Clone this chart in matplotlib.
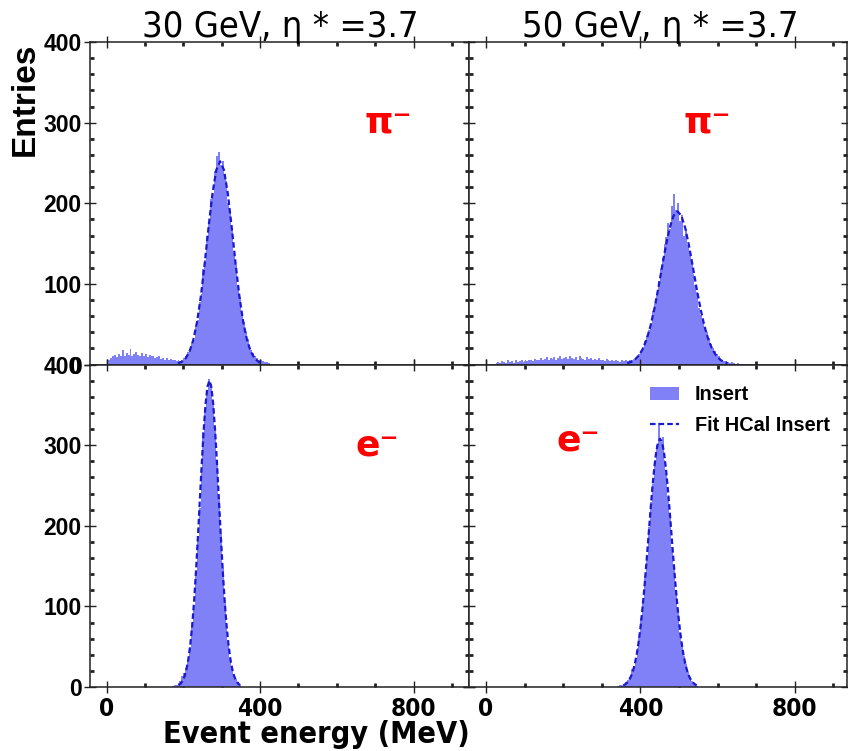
import numpy as np
import matplotlib
matplotlib.use('Agg')
import matplotlib.pyplot as plt
from matplotlib import font_manager
from matplotlib.ticker import MultipleLocator, FixedLocator, NullFormatter
from matplotlib.patches import Patch
from matplotlib.lines import Line2D

names = {f.name for f in font_manager.fontManager.ttflist}
SANS = 'Liberation Sans' if 'Liberation Sans' in names else 'DejaVu Sans'
COND = 'DejaVu Sans'
plt.rcParams['lines.scale_dashes'] = False

# ---------------- data ----------------
titles = ["30 GeV, η * =3.7", "50 GeV, η * =3.7"]
particle_labels = ["π⁻", "e⁻"]
xlabel = "Event energy (MeV)"
ylabel = "Entries"
legend_labels = ["Insert", "Fit HCal Insert"]
x_major_ticks = [0, 400, 800]
y_major_ticks = [0, 100, 200, 300, 400]
bin_width = 5

pi30_start = 0
pi30_counts = [3, 6, 8, 10, 12, 9, 13, 11, 18, 10,
               14, 12, 19, 11, 13, 15, 12, 10, 14, 11,
               13, 9, 12, 10, 11, 8, 9, 10, 7, 8,
               6, 8, 5, 7, 5, 6, 4, 5, 4, 6,
               8, 10, 15, 19, 27, 31, 48, 55, 78, 88,
               118, 130, 160, 175, 205, 212, 240, 258, 264, 248,
               252, 236, 228, 200, 190, 168, 138, 124, 97, 84,
               62, 53, 40, 32, 24, 18, 14, 10, 8, 6,
               5, 4, 3, 3, 2, 1]

pi50_start = 0
pi50_counts = [0, 0, 0, 0, 1, 2, 3, 2, 4, 3,
               2, 5, 3, 4, 2, 5, 3, 4, 6, 3,
               5, 4, 6, 5, 4, 7, 5, 6, 8, 6,
               7, 9, 6, 8, 7, 9, 6, 8, 10, 7,
               8, 9, 7, 11, 8, 7, 9, 6, 10, 8,
               7, 6, 9, 7, 8, 5, 7, 6, 8, 5,
               6, 4, 7, 5, 4, 6, 4, 5, 4, 3,
               5, 4,
               5, 4, 6, 5, 7, 8, 10, 13, 17, 22,
               29, 35, 43, 52, 66, 75, 86, 104, 118, 132,
               150, 158, 175, 168, 196, 212, 192, 200, 178, 186,
               160, 168, 148, 140, 126, 112, 98, 90, 70, 62,
               56, 46, 40, 33, 26, 21, 17, 13, 10, 8,
               6, 4, 4, 3, 2, 3, 2, 1, 2, 1,
               1, 1, 0, 1]

e30_start = 170
e30_counts = [1, 3, 2, 5, 8, 14, 17, 24, 34, 50,
              74, 100, 140, 183, 222, 270, 316, 345, 368, 382,
              376, 350, 318, 282, 232, 190, 148, 106, 78, 54,
              36, 24, 15, 10, 6, 2]

e50_start = 340
e50_counts = [1, 2, 3, 4, 6, 9, 13, 22, 26, 34,
              48, 62, 86, 104, 138, 162, 198, 230, 252, 282,
              300, 328, 304, 310, 282, 266, 236, 210, 174, 150,
              116, 94, 68, 52, 38, 28, 19, 13, 8, 4,
              2, 1]

pi30_fit_x = [186, 196, 206, 216, 226, 236, 246, 256, 266, 276, 286, 296,
              306, 316, 326, 336, 346, 356, 366, 376, 386, 396, 406]
pi30_fit_y = [1.3, 3.3, 7.6, 15.8, 30.3, 53.1, 85.4, 126.2, 170.8, 212.0, 241.3, 252,
              241.3, 212.0, 170.8, 126.2, 85.4, 53.1, 30.3, 15.8, 7.6, 3.3, 1.3]

pi50_fit_x = [366, 376, 386, 396, 406, 416, 426, 436, 446, 456, 466, 476, 486, 496,
              506, 516, 526, 536, 546, 556, 566, 576, 586, 596, 606, 616, 626]
pi50_fit_y = [1.6, 3.2, 6.2, 11.2, 19.1, 31.0, 47.4, 68.5, 93.5, 120.7, 147.2, 169.6, 184.7, 190,
              184.7, 169.6, 147.2, 120.7, 93.5, 68.5, 47.4, 31.0, 19.1, 11.2, 6.2, 3.2, 1.6]

e30_fit_x = [188, 193, 198, 203, 208, 213, 218, 223, 228, 233, 238, 243, 248, 253, 258, 263, 268,
             273, 278, 283, 288, 293, 298, 303, 308, 313, 318, 323, 328, 333, 338, 343, 348]
e30_fit_y = [2.3, 4.2, 7.5, 12.9, 21.3, 33.8, 51.4, 75.2, 105.6, 142.6, 185.0, 230.5, 275.9, 317.4, 350.8, 372.5, 380,
             372.5, 350.8, 317.4, 275.9, 230.5, 185.0, 142.6, 105.6, 75.2, 51.4, 33.8, 21.3, 12.9, 7.5, 4.2, 2.3]

e50_fit_x = [356, 361, 366, 371, 376, 381, 386, 391, 396, 401, 406, 411, 416, 421, 426, 431, 436, 441, 446, 451,
             456, 461, 466, 471, 476, 481, 486, 491, 496, 501, 506, 511, 516, 521, 526, 531, 536, 541, 546]
e50_fit_y = [2.0, 3.4, 5.6, 8.8, 13.5, 20.2, 29.4, 41.7, 57.4, 76.8, 100.0, 126.6, 155.9, 186.8, 217.6, 246.6, 271.8, 291.4, 303.7, 308,
             303.7, 291.4, 271.8, 246.6, 217.6, 186.8, 155.9, 126.6, 100.0, 76.8, 57.4, 41.7, 29.4, 20.2, 13.5, 8.8, 5.6, 3.4, 2.0]

panels = [
    [(pi30_start, pi30_counts, pi30_fit_x, pi30_fit_y), (pi50_start, pi50_counts, pi50_fit_x, pi50_fit_y)],
    [(e30_start, e30_counts, e30_fit_x, e30_fit_y), (e50_start, e50_counts, e50_fit_x, e50_fit_y)],
]
label_pos = [[(735, 300), (572, 300)], [(705, 300), (240, 306)]]

# ---------------- style ----------------
HIST_COLOR = '#8080f7'
FIT_COLOR = '#1a1acc'
AX_COLOR = '#222222'

fig = plt.figure(figsize=(8.48, 7.51), dpi=100)
gs = fig.add_gridspec(2, 2, left=90/848, right=847/848, top=1-42/751, bottom=1-687/751,
                      wspace=0, hspace=0)
xlims = [(-43, 943), (-45, 935)]

for r in range(2):
    for c in range(2):
        ax = fig.add_subplot(gs[r, c])
        start, counts, fx, fy = panels[r][c]
        edges = start + bin_width * np.arange(len(counts) + 1)
        ax.stairs(counts, edges, fill=True, color=HIST_COLOR, lw=0, zorder=2)
        ax.plot(fx, fy, color=FIT_COLOR, lw=1.6, ls=(0, (4.0, 2.2)), zorder=3)
        ax.set_xlim(*xlims[c])
        ax.set_ylim(0, 400)
        ax.xaxis.set_major_locator(FixedLocator(x_major_ticks))
        ax.xaxis.set_minor_locator(MultipleLocator(100))
        ax.yaxis.set_major_locator(FixedLocator(y_major_ticks))
        ax.yaxis.set_minor_locator(MultipleLocator(20))
        ax.tick_params(which='major', direction='inout', length=8, width=1.0, color=AX_COLOR,
                       top=True, right=True, bottom=True, left=True)
        ax.tick_params(which='minor', direction='in', length=3, width=2.0, color=AX_COLOR,
                       top=True, right=True, bottom=True, left=True)
        for sp in ax.spines.values():
            sp.set_color(AX_COLOR)
            sp.set_linewidth(1.1)
        if c == 0:
            for lab in ax.get_yticklabels():
                lab.set_fontfamily(SANS)
                lab.set_fontweight('bold')
                lab.set_fontsize(16.5)
            ax.tick_params(axis='y', pad=2)
        else:
            ax.yaxis.set_major_formatter(NullFormatter())
        if r == 1:
            for lab in ax.get_xticklabels():
                lab.set_fontfamily(COND)
                lab.set_fontstretch('condensed')
                lab.set_fontweight('bold')
                lab.set_fontsize(17.5)
            ax.tick_params(axis='x', pad=3)
        else:
            ax.xaxis.set_major_formatter(NullFormatter())
        lx, ly = label_pos[r][c]
        ax.text(lx, ly, particle_labels[r], color='red', fontsize=26, fontweight='bold',
                family='DejaVu Sans', ha='center', va='center', zorder=5)
        if r == 1 and c == 1:
            handles = [Patch(facecolor=HIST_COLOR, edgecolor='none'),
                       Line2D([], [], color=FIT_COLOR, lw=1.6, ls=(0, (4.0, 2.2)))]
            ax.legend(handles, legend_labels, loc='upper left', bbox_to_anchor=(0.48, 0.935),
                      frameon=False, borderaxespad=0, borderpad=0, handlelength=1.45,
                      handleheight=0.7, handletextpad=0.8, labelspacing=0.6,
                      prop={'family': SANS, 'weight': 'bold', 'size': 14.3})

for c in range(2):
    x0 = (90 + c * 380 + 190) / 848
    fig.text(x0, 1 - 37/751, titles[c], ha='center', va='baseline', fontsize=26,
             family=COND, fontstretch='condensed')

fig.text(25/848, 1 - 99/751, ylabel, rotation=90, ha='center', va='center', fontsize=24,
         fontweight='bold', family=SANS)
fig.text(316/848, 1 - 743/751, xlabel, ha='center', va='baseline', fontsize=22,
         fontweight='bold', family=COND, fontstretch='condensed')

fig.savefig('out.png', dpi=100)
